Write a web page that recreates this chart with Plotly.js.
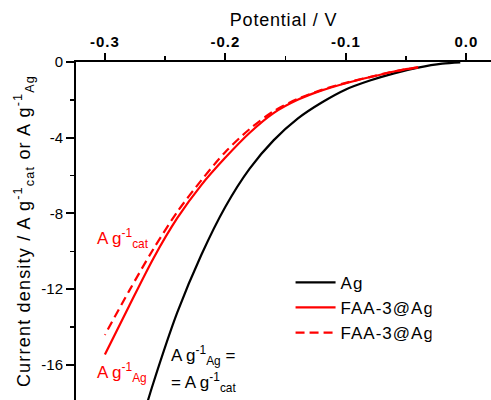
<!DOCTYPE html>
<html>
<head>
<meta charset="utf-8">
<script src="https://cdn.plot.ly/plotly-3.0.1.min.js"></script>
<style>
html,body{margin:0;padding:0;background:#fff;overflow:hidden}
#chart{width:491px;height:400px}
#chart .g-ytitle text{letter-spacing:1.2px}
#chart .g-xtitle text{letter-spacing:0.8px}
#chart .legendtext{letter-spacing:1px}
#chart .xtick text{letter-spacing:1px}
</style>
</head>
<body>
<div id="chart"></div>
<script>
// Potential (V) and current density (A g^-1)
const agPotential = [-0.005, -0.02, -0.04, -0.06, -0.08, -0.10, -0.12, -0.14, -0.16, -0.18, -0.20, -0.22, -0.24, -0.26, -0.268];
const agCurrent   = [-0.02, -0.09, -0.30, -0.60, -0.98, -1.45, -2.14, -2.99, -4.14, -5.64, -7.64, -10.19, -13.24, -16.99, -18.67];

const faaCatPotential = [-0.04, -0.05, -0.06, -0.08, -0.10, -0.12, -0.14, -0.16, -0.18, -0.20, -0.22, -0.24, -0.26, -0.28, -0.30];
const faaCatCurrent   = [-0.28, -0.38, -0.50, -0.80, -1.12, -1.50, -2.00, -2.70, -3.75, -5.05, -6.50, -8.25, -10.40, -12.90, -15.45];

const faaAgPotential = [-0.04, -0.06, -0.08, -0.10, -0.12, -0.14, -0.16, -0.18, -0.20, -0.22, -0.24, -0.26, -0.28, -0.30];
const faaAgCurrent   = [-0.28, -0.50, -0.79, -1.10, -1.47, -1.95, -2.60, -3.55, -4.75, -6.25, -7.92, -9.90, -12.10, -14.41];

const seriesNames = ['Ag', 'FAA-3@Ag', 'FAA-3@Ag'];

const xTickVals = [-0.3, -0.2, -0.1, 0.0];
const xTickText = ['-0.3', '-0.2', '-0.1', '0.0'];
const yTickVals = [0, -4, -8, -12, -16];
const yTickText = ['0', '-4', '-8', '-12', '-16'];

const FONT = 'Arial, "Liberation Sans", sans-serif';
const RED = '#ff0000';

const traces = [
  {x: agPotential, y: agCurrent, name: seriesNames[0], mode: 'lines', line: {color: '#000000', width: 2.2, shape: 'spline', smoothing: 0.8}},
  {x: faaCatPotential, y: faaCatCurrent, name: seriesNames[1], mode: 'lines', line: {color: RED, width: 2.2, shape: 'spline', smoothing: 0.8}},
  {x: faaAgPotential, y: faaAgCurrent, name: seriesNames[2], mode: 'lines', line: {color: RED, width: 2.2, dash: '9px,5px', shape: 'spline', smoothing: 0.8}}
];

const layout = {
  width: 491, height: 400,
  margin: {l: 76, r: 0, t: 62, b: 0, pad: 0},
  paper_bgcolor: '#ffffff', plot_bgcolor: '#ffffff',
  font: {family: FONT, color: '#000000'},
  showlegend: true,
  legend: {x: 0.517, y: 0.40, xanchor: 'left', yanchor: 'top', bgcolor: 'rgba(0,0,0,0)',
           font: {family: FONT, size: 17, color: '#000'}, itemwidth: 40, tracegroupgap: 0},
  xaxis: {
    side: 'top', range: [-0.324, 0.0205], autorange: false,
    tickmode: 'array', tickvals: xTickVals, ticktext: xTickText,
    ticks: 'outside', ticklen: 7, tickwidth: 2, tickcolor: '#000',
    minor: {tickmode: 'linear', tick0: 0, dtick: 0.05, ticks: 'outside', ticklen: 4, tickwidth: 1.5, tickcolor: '#000', showgrid: false},
    showline: true, linewidth: 2, linecolor: '#000', mirror: false,
    showgrid: false, zeroline: false, automargin: false,
    tickfont: {family: FONT, size: 15, color: '#000', weight: 'bold'},
    title: {text: 'Potential / V', font: {family: FONT, size: 18, color: '#000'}, standoff: 2}
  },
  yaxis: {
    range: [-17.85, 0], autorange: false,
    tickmode: 'array', tickvals: yTickVals, ticktext: yTickText,
    ticks: 'outside', ticklen: 8, tickwidth: 2, tickcolor: '#000',
    minor: {tickmode: 'linear', tick0: 0, dtick: 2, ticks: 'outside', ticklen: 4, tickwidth: 1.5, tickcolor: '#000', showgrid: false},
    showline: true, linewidth: 2, linecolor: '#000', mirror: false,
    showgrid: false, zeroline: false, automargin: false,
    tickfont: {family: FONT, size: 15, color: '#000'},
    title: {text: 'Current density / A g<sup>-1</sup><sub>cat</sub> or A g<sup>-1</sup><sub>Ag</sub>', font: {family: FONT, size: 18, color: '#000'}, standoff: 6}
  },
  annotations: [
    {xref: 'x', yref: 'y', x: -0.3083, y: -9.3, xanchor: 'left', yanchor: 'middle', showarrow: false,
     text: 'A g<sup>-1</sup><sub>cat</sub>', font: {family: FONT, size: 17, color: RED}},
    {xref: 'x', yref: 'y', x: -0.3083, y: -16.4, xanchor: 'left', yanchor: 'middle', showarrow: false,
     text: 'A g<sup>-1</sup><sub>Ag</sub>', font: {family: FONT, size: 17, color: RED}},
    {xref: 'x', yref: 'y', x: -0.2465, y: -15.5, xanchor: 'left', yanchor: 'middle', showarrow: false,
     text: 'A g<sup>-1</sup><sub>Ag</sub> =', font: {family: FONT, size: 17, color: '#000'}},
    {xref: 'x', yref: 'y', x: -0.2465, y: -16.9, xanchor: 'left', yanchor: 'middle', showarrow: false,
     text: '= A g<sup>-1</sup><sub>cat</sub>', font: {family: FONT, size: 17, color: '#000'}}
  ]
};

Plotly.newPlot('chart', traces, layout, {staticPlot: true, displayModeBar: false});
</script>
</body>
</html>
